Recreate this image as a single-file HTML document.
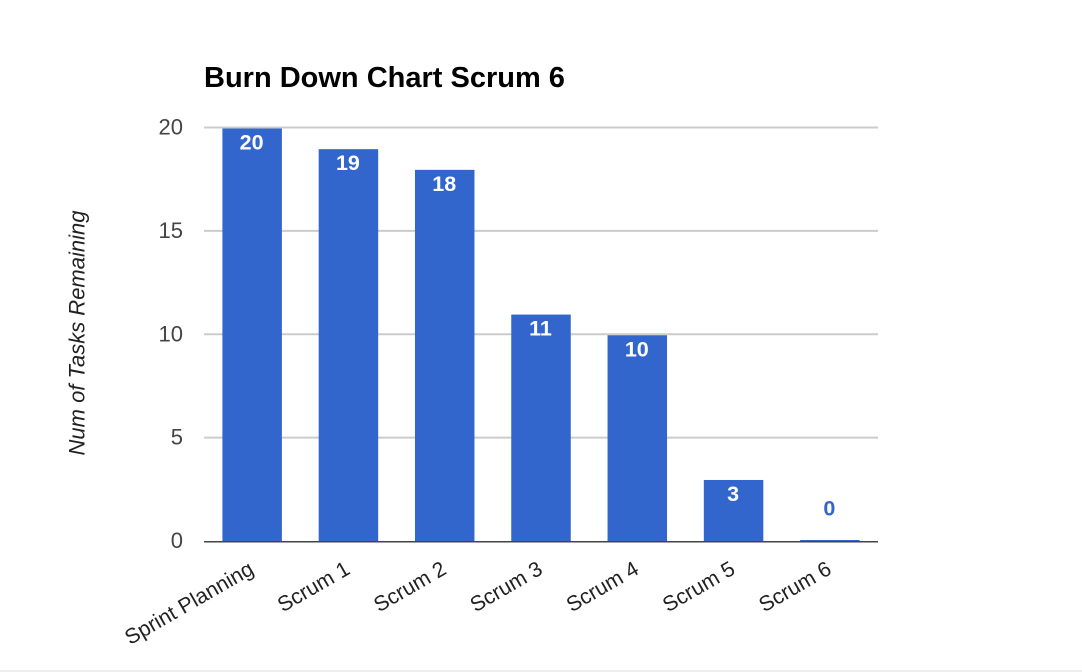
<!DOCTYPE html>
<html lang="en">
<head>
<meta charset="utf-8">
<title>Burn Down Chart Scrum 6</title>
<style>
html,body{margin:0;padding:0;background:#fff;width:1082px;height:672px;overflow:hidden}
svg{display:block;font-family:"Liberation Sans",Arial,sans-serif}
</style>
</head>
<body>
<svg id="chart" xmlns="http://www.w3.org/2000/svg" width="1082" height="672" viewBox="0 0 1082 672">
  <rect x="0" y="0" width="1082" height="672" fill="#ffffff"/>
  <rect x="0" y="670" width="1082" height="2" fill="#eeeeee"/>
  <text x="204" y="87" font-size="29" font-weight="bold" fill="#000000">Burn Down Chart Scrum 6</text>
  <text transform="translate(84.5 333) rotate(-90)" text-anchor="middle" font-size="22" font-style="italic" fill="#222222">Num of Tasks Remaining</text>
  <g id="grid"></g>
  <g id="bars"></g>
  <g id="axis"></g>
</svg>
<script>
var categories = ["Sprint Planning", "Scrum 1", "Scrum 2", "Scrum 3", "Scrum 4", "Scrum 5", "Scrum 6"];
var tasksRemaining = [20, 19, 18, 11, 10, 3, 0];
var yTicks = [0, 5, 10, 15, 20];

var NS = "http://www.w3.org/2000/svg";
var plot = { left: 204, right: 878, top: 127.5, bottom: 541 };
var yMax = 20;
var barWidth = 59.5;

function yScale(v) {
  return plot.bottom - (v / yMax) * (plot.bottom - plot.top);
}
function xCenter(i) {
  return plot.left + (plot.right - plot.left) * (i + 0.5) / categories.length;
}
function make(tag, attrs, parent, text) {
  var el = document.createElementNS(NS, tag);
  for (var k in attrs) el.setAttribute(k, attrs[k]);
  if (text !== undefined) el.textContent = text;
  parent.appendChild(el);
  return el;
}

var grid = document.getElementById("grid");
var bars = document.getElementById("bars");
var axis = document.getElementById("axis");

yTicks.forEach(function (t) {
  var y = yScale(t);
  if (t !== 0) {
    var line = make("rect", { x: plot.left, y: y - 1, width: plot.right - plot.left, height: 2, fill: "#cccccc" }, grid);
    
    
  }
  var label = make("text", { x: 183, y: y + 7, "text-anchor": "end", "font-size": 22, fill: "#444444" }, grid, String(t));
  
  
});

tasksRemaining.forEach(function (v, i) {
  var cx = xCenter(i);
  var y = yScale(v);
  var top = Math.min(y + 1, plot.bottom - 1);
  var bar = make("rect", { x: cx - barWidth / 2, y: top, width: barWidth, height: plot.bottom - top, fill: "#3366cc" }, bars);
  
  

  var inside = v > 0;
  var label = make("text", {
    x: cx - 0.5,
    y: inside ? y + 22 : y - 25.5,
    "text-anchor": "middle",
    "font-size": 21.5,
    "font-weight": "bold",
    fill: inside ? "#ffffff" : "#3366cc"
  }, bars, String(v));
  
  

  var ax = cx + 3;
  var ay = 573;
  var cat = make("text", {
    transform: "translate(" + ax + " " + ay + ") rotate(-30)",
    "text-anchor": "end",
    "font-size": 21.3,
    fill: "#222222"
  }, axis, categories[i]);
  
  
});

var baseline = make("rect", { x: plot.left, y: plot.bottom, width: plot.right - plot.left, height: 1.5, fill: "#444444" }, axis);


</script>
</body>
</html>
